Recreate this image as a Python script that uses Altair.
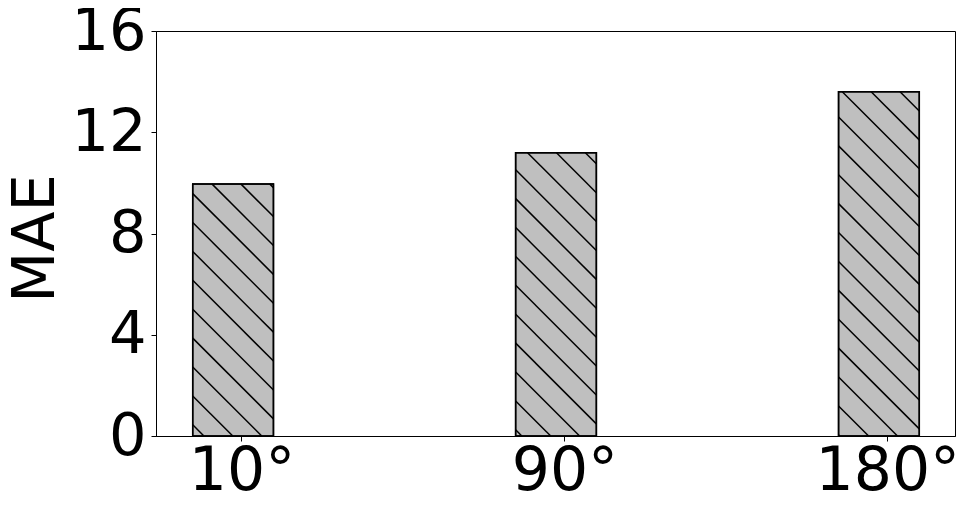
import altair as alt
import pandas as pd

# data
angles = ["10°", "90°", "180°"]
mae = [9.96, 11.19, 13.6]
positions = [0, 1, 2]

bar_offset = -0.026
bar_half = 0.125
x_domain = [-0.2647, 2.2096]
y_domain = [0, 16]
W, H = 799, 405

bars = pd.DataFrame({
    "x1": [p + bar_offset - bar_half for p in positions],
    "x2": [p + bar_offset + bar_half for p in positions],
    "mae": mae,
    "angle": angles,
})

# hatch lines ("\\" pattern) derived from the bars through the scale ratios
sx = W / (x_domain[1] - x_domain[0])
sy = H / (y_domain[1] - y_domain[0])
spacing = 28.9
phase = 19.0
segs = []
for x1, x2, v in zip(bars.x1, bars.x2, bars.mae):
    px1 = (x1 - x_domain[0]) * sx
    px2 = (x2 - x_domain[0]) * sx
    ph = v * sy
    k0 = int((px1 - phase) // spacing) - 1
    k1 = int((px2 + ph - phase) // spacing) + 2
    for k in range(k0, k1):
        c = phase + k * spacing
        xa = max(px1, c - ph)
        xb = min(px2, c)
        if xb - xa > 0.5:
            segs.append({
                "hx1": xa / sx + x_domain[0],
                "hy1": (c - xa) / sy,
                "hx2": xb / sx + x_domain[0],
                "hy2": (c - xb) / sy,
            })
hatch = pd.DataFrame(segs)

label_expr = "datum.value == 0 ? '10°' : datum.value == 1 ? '90°' : '180°'"

xscale = alt.Scale(domain=x_domain, nice=False, zero=False)
yscale = alt.Scale(domain=y_domain, nice=False)

base_x = alt.X(
    "x1:Q", scale=xscale,
    axis=alt.Axis(values=positions, labelExpr=label_expr, title=None, grid=False,
                  labelFontSize=60, labelFont="DejaVu Sans", labelColor="black",
                  tickColor="black", domainColor="black", tickSize=5, labelPadding=1,
                  labelFlush=False, labelOverlap=False),
)
base_y = alt.Y(
    "mae:Q", scale=yscale,
    axis=alt.Axis(values=[0, 4, 8, 12, 16], title="MAE", grid=False,
                  labelFontSize=59, labelFont="DejaVu Sans", labelColor="black",
                  tickColor="black", domainColor="black", tickSize=5, labelPadding=5,
                  titleFontSize=59, titleFont="DejaVu Sans", titleFontWeight="normal",
                  titleColor="black", titleAngle=270, titleAlign="center",
                  titleBaseline="alphabetic", titleX=-103, titleY=207,
                  labelFlush=False, labelOverlap=False),
)

bar_layer = alt.Chart(bars).mark_rect(
    fill="#bfbfbf", stroke="black", strokeWidth=1.5
).encode(
    x=base_x, x2="x2:Q", y=base_y, y2=alt.datum(0),
)

hatch_layer = alt.Chart(hatch).mark_rule(color="black", strokeWidth=1.5).encode(
    x=alt.X("hx1:Q", scale=xscale),
    x2="hx2:Q",
    y=alt.Y("hy1:Q", scale=yscale),
    y2="hy2:Q",
)

outline = alt.Chart(bars).mark_rect(
    fill=None, stroke="black", strokeWidth=1.5
).encode(
    x=alt.X("x1:Q", scale=xscale), x2="x2:Q",
    y=alt.Y("mae:Q", scale=yscale), y2=alt.datum(0),
)

chart = alt.layer(bar_layer, hatch_layer, outline).properties(
    width=W, height=H,
    autosize=alt.AutoSizeParams(type="none"),
    padding={"left": 148, "top": 23, "right": 5, "bottom": 70},
    background="white",
).configure_view(
    stroke="black", strokeWidth=1
)

chart.save("out.html", embed_options={"renderer": "svg", "actions": False})
